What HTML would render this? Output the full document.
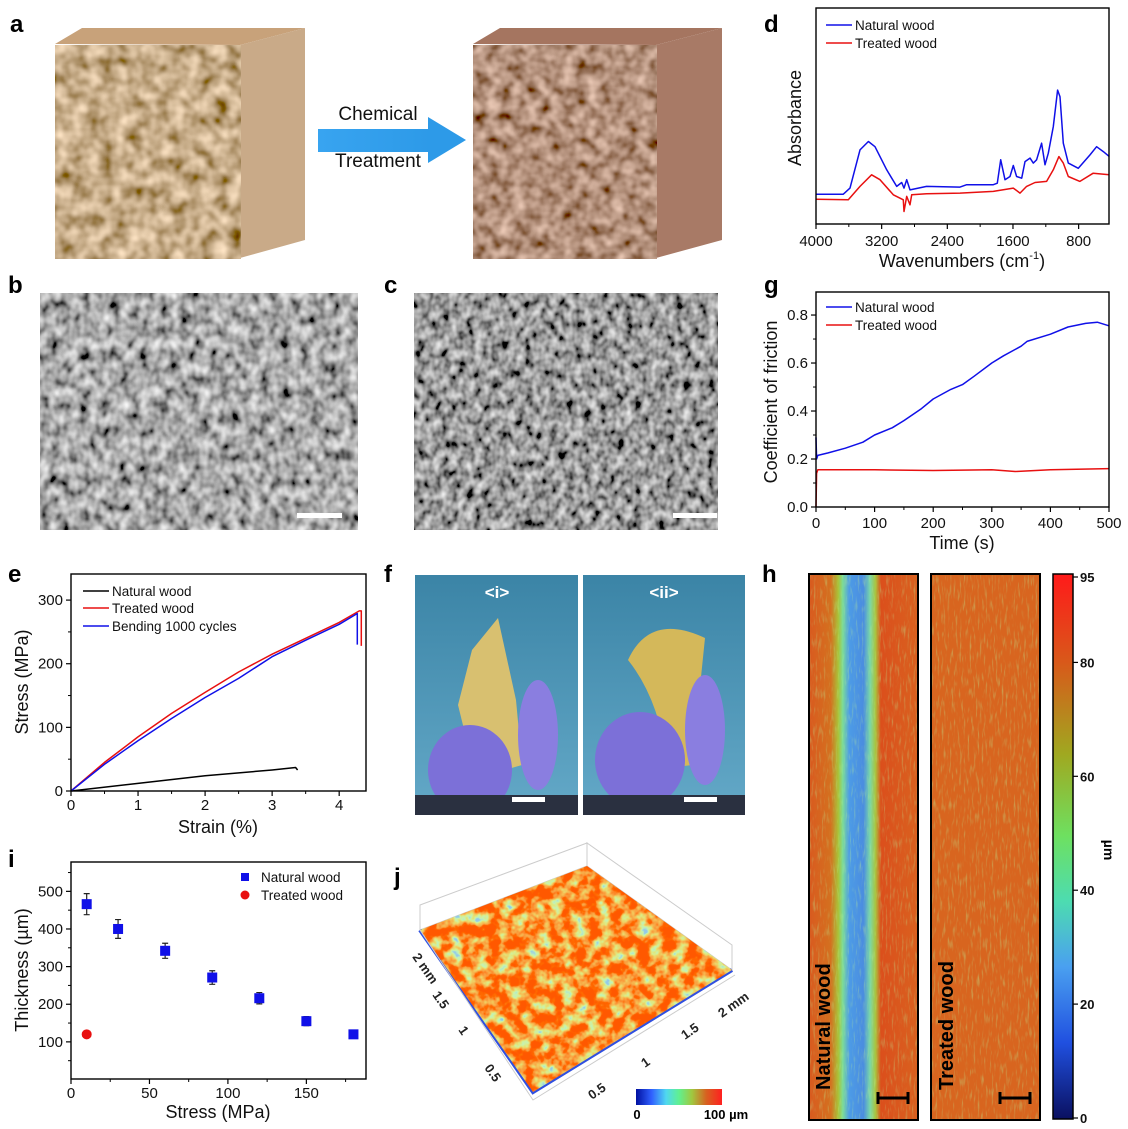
<!DOCTYPE html>
<html><head><meta charset="utf-8">
<style>
html,body{margin:0;padding:0;background:#fff;}
svg{display:block;font-family:"Liberation Sans",sans-serif;}
.pl{font-family:"Liberation Sans",sans-serif;font-weight:bold;font-size:24px;fill:#000;}
</style></head>
<body>
<svg id="fig" width="1128" height="1129" viewBox="0 0 1128 1129" xmlns="http://www.w3.org/2000/svg">
<defs>
<filter id="woodA" filterUnits="userSpaceOnUse" x="50" y="20" width="260" height="245">
 <feTurbulence type="fractalNoise" baseFrequency="0.07" numOctaves="2" seed="3"/>
 <feColorMatrix type="matrix" values="1.1 0 0 0 0.02  0.95 0 0 0 -0.06  0.8 0 0 0 -0.15  0 0 0 0 1"/>
 <feComposite in2="SourceGraphic" operator="in"/>
</filter>
<filter id="woodB" filterUnits="userSpaceOnUse" x="465" y="20" width="260" height="245">
 <feTurbulence type="fractalNoise" baseFrequency="0.08" numOctaves="2" seed="7"/>
 <feColorMatrix type="matrix" values="1.0 0 0 0 -0.05  0.8 0 0 0 -0.12  0.7 0 0 0 -0.15  0 0 0 0 1"/>
 <feComposite in2="SourceGraphic" operator="in"/>
</filter>
<filter id="semB" filterUnits="userSpaceOnUse" x="40" y="293" width="318" height="237">
 <feTurbulence type="fractalNoise" baseFrequency="0.1 0.08" numOctaves="2" seed="5"/>
 <feColorMatrix type="matrix" values="1.3 0 0 0 -0.25  1.3 0 0 0 -0.25  1.3 0 0 0 -0.25  0 0 0 0 1"/>
</filter>
<filter id="semC" filterUnits="userSpaceOnUse" x="414" y="293" width="304" height="237">
 <feTurbulence type="fractalNoise" baseFrequency="0.12 0.1" numOctaves="2" seed="9"/>
 <feColorMatrix type="matrix" values="1.3 0 0 0 -0.32  1.3 0 0 0 -0.32  1.3 0 0 0 -0.32  0 0 0 0 1"/>
</filter>
<filter id="surf" filterUnits="userSpaceOnUse" x="410" y="855" width="330" height="245">
 <feTurbulence type="fractalNoise" baseFrequency="0.08" numOctaves="3" seed="11"/>
 <feColorMatrix type="matrix" values="2.0 0 0 0 -0.3  2.0 0 0 0 -0.3  2.0 0 0 0 -0.3  0 0 0 0 1"/>
 <feComponentTransfer>
  <feFuncR type="table" tableValues="0.3 0.55 0.75 0.9 0.95 1 1"/>
  <feFuncG type="table" tableValues="0.6 0.9 0.8 0.55 0.35 0.15 0.1"/>
  <feFuncB type="table" tableValues="0.8 0.45 0.2 0.1 0.05 0 0"/>
 </feComponentTransfer>
</filter>
<filter id="speck" filterUnits="userSpaceOnUse" x="800" y="570" width="250" height="555">
 <feTurbulence type="fractalNoise" baseFrequency="0.5 0.08" numOctaves="2" seed="4"/>
 <feColorMatrix type="matrix" values="0 0 0 0 0.5  0 0 0 0 0.85  0 0 0 0 0.3  2.2 0 0 0 -1.15"/>
 <feComposite in2="SourceGraphic" operator="in"/>
</filter>
<clipPath id="surfClip"><polygon points="420,930 587,866 732,970 533,1092"/></clipPath>
<linearGradient id="hA" x1="0" x2="1" y1="0" y2="0">
 <stop offset="0" stop-color="#d95a1f"/><stop offset="0.2" stop-color="#d4701f"/>
 <stop offset="0.27" stop-color="#a8c43a"/><stop offset="0.31" stop-color="#7cdc98"/>
 <stop offset="0.37" stop-color="#4d9be6"/><stop offset="0.5" stop-color="#4a8de0"/>
 <stop offset="0.56" stop-color="#7ad8a8"/><stop offset="0.61" stop-color="#a9c43e"/>
 <stop offset="0.66" stop-color="#db4f1c"/><stop offset="1" stop-color="#d9611f"/>
</linearGradient>
<linearGradient id="cbar" x1="0" x2="0" y1="0" y2="1">
 <stop offset="0" stop-color="#ff1a1a"/><stop offset="0.16" stop-color="#d9581a"/>
 <stop offset="0.33" stop-color="#a0a820"/><stop offset="0.48" stop-color="#6ee060"/>
 <stop offset="0.6" stop-color="#4ddcb0"/><stop offset="0.72" stop-color="#4aa0f0"/>
 <stop offset="0.86" stop-color="#2050e0"/><stop offset="1" stop-color="#0a1060"/>
</linearGradient>
<linearGradient id="jbar" x1="0" x2="1" y1="0" y2="0">
 <stop offset="0" stop-color="#0010a0"/><stop offset="0.18" stop-color="#3060ff"/>
 <stop offset="0.35" stop-color="#50d8f0"/><stop offset="0.5" stop-color="#60f090"/>
 <stop offset="0.65" stop-color="#a0c840"/><stop offset="0.82" stop-color="#d86020"/>
 <stop offset="1" stop-color="#ff2020"/>
</linearGradient>
<linearGradient id="photo" x1="0" x2="0" y1="0" y2="1">
 <stop offset="0" stop-color="#3b84a6"/><stop offset="1" stop-color="#64a9c8"/>
</linearGradient>
<linearGradient id="arrowG" x1="0" x2="1" y1="0" y2="0">
 <stop offset="0" stop-color="#38a4f0"/><stop offset="1" stop-color="#2d9ae8"/>
</linearGradient>
</defs>

<!-- panel a -->
<g>
 <text class="pl" x="10" y="32">a</text>
 <g>
  <polygon points="55,44 82,28 305,28 240,45" fill="#c8a27a"/>
  <polygon points="240,45 305,28 305,240 240,258" fill="#c9aa88"/>
  <rect x="55" y="45" width="186" height="214" fill="#b08860" filter="url(#woodA)"/>
 </g>
 <g>
  <polygon points="473,44 500,28 722,28 656,45" fill="#a57560"/>
  <polygon points="656,45 722,28 722,240 656,258" fill="#a87a66"/>
  <rect x="473" y="45" width="184" height="214" fill="#8a5a45" filter="url(#woodB)"/>
 </g>
 <g>
  <rect x="318" y="129" width="112" height="23" fill="url(#arrowG)"/>
  <polygon points="428,117 466,140 428,163" fill="#2d9ae8"/>
 </g>
 <text x="378" y="120" font-size="19" text-anchor="middle" fill="#111">Chemical</text>
 <text x="378" y="167" font-size="19" text-anchor="middle" fill="#111">Treatment</text>
</g>

<!-- panels b, c -->
<g>
 <text class="pl" x="8" y="293">b</text>
 <rect x="40" y="293" width="318" height="237" fill="#707070" filter="url(#semB)"/>
 <rect x="297" y="513" width="45" height="5" fill="#fff"/>
</g>
<g>
 <text class="pl" x="384" y="293">c</text>
 <rect x="414" y="293" width="304" height="237" fill="#555" filter="url(#semC)"/>
 <rect x="673" y="513" width="44" height="5" fill="#fff"/>
</g>

<!-- panel f -->
<g>
 <text class="pl" x="384" y="582">f</text>
 <g>
  <rect x="415" y="575" width="163" height="240" fill="url(#photo)"/>
  <polygon points="472,650 498,618 516,700 522,765 476,778 458,705" fill="#d8c070"/>
  <ellipse cx="470" cy="770" rx="42" ry="45" fill="#7c70d8"/>
  <ellipse cx="538" cy="735" rx="20" ry="55" fill="#8a7ee0"/>
  <rect x="415" y="795" width="163" height="20" fill="#2a3040"/>
  <text x="497" y="598" font-size="17" font-weight="bold" fill="#fff" text-anchor="middle">&lt;i&gt;</text>
  <rect x="512" y="797" width="33" height="5" fill="#fff"/>
 </g>
 <g>
  <rect x="583" y="575" width="162" height="240" fill="url(#photo)"/>
  <path d="M628,660 Q650,612 705,638 L692,765 L668,768 Q660,700 628,660 Z" fill="#d4b85a"/>
  <ellipse cx="640" cy="760" rx="45" ry="48" fill="#7c70d8"/>
  <ellipse cx="705" cy="730" rx="20" ry="55" fill="#8a7ee0"/>
  <rect x="583" y="795" width="162" height="20" fill="#2a3040"/>
  <text x="664" y="598" font-size="17" font-weight="bold" fill="#fff" text-anchor="middle">&lt;ii&gt;</text>
  <rect x="684" y="797" width="33" height="5" fill="#fff"/>
 </g>
</g>

<!-- panel h -->
<g>
 <text class="pl" x="762" y="582">h</text>
 <g>
  <rect x="809" y="574" width="109" height="546" fill="url(#hA)"/>
  <rect x="809" y="574" width="109" height="546" fill="#000" filter="url(#speck)" opacity="0.5"/>
  <rect x="809" y="574" width="109" height="546" fill="none" stroke="#000" stroke-width="2"/>
  <text transform="translate(830,1090) rotate(-90)" font-size="20" font-weight="bold" fill="#000">Natural wood</text>
  <path d="M878,1092v12M878,1098h30M908,1092v12" stroke="#000" stroke-width="3" fill="none"/>
 </g>
 <g>
  <rect x="931" y="574" width="109" height="546" fill="#d8651f"/>
  <rect x="931" y="574" width="109" height="546" fill="#000" filter="url(#speck)" opacity="0.55"/>
  <rect x="931" y="574" width="109" height="546" fill="none" stroke="#000" stroke-width="2"/>
  <text transform="translate(953,1090) rotate(-90)" font-size="20" font-weight="bold" fill="#000">Treated wood</text>
  <path d="M1000,1092v12M1000,1098h30M1030,1092v12" stroke="#000" stroke-width="3" fill="none"/>
 </g>
 <g>
  <rect x="1053" y="574" width="20" height="545" fill="url(#cbar)" stroke="#000" stroke-width="1.5"/>
 </g>
 <text transform="translate(1104,850) rotate(90)" font-size="14" font-weight="bold" text-anchor="middle">µm</text>
</g>

<!-- panel j -->
<g>
 <text class="pl" x="394" y="885">j</text>
 <g stroke="#ccc" stroke-width="1" fill="none">
  <polygon points="420,930 420,905 587,843 587,866"/>
  <polygon points="587,866 587,843 732,945 732,970"/>
 </g>
 <path d="M420,930 L533,1092 L732,970" stroke="#3050e0" stroke-width="4" fill="none"/>
 <rect x="410" y="855" width="330" height="245" fill="#d86020" filter="url(#surf)" clip-path="url(#surfClip)"/>
 <path d="M420,930 L533,1100 L735,975" stroke="#ccc" stroke-width="1" fill="none"/>
 <g font-size="13" font-weight="bold" fill="#222">
  <text transform="translate(412,957) rotate(55)">2 mm</text>
  <text transform="translate(432,995) rotate(55)">1.5</text>
  <text transform="translate(458,1030) rotate(55)">1</text>
  <text transform="translate(484,1068) rotate(55)">0.5</text>
  <text transform="translate(592,1100) rotate(-35)">0.5</text>
  <text transform="translate(645,1068) rotate(-35)">1</text>
  <text transform="translate(685,1040) rotate(-35)">1.5</text>
  <text transform="translate(722,1018) rotate(-35)">2 mm</text>
 </g>
 <rect x="636" y="1089" width="86" height="16" fill="url(#jbar)"/>
 <text x="637" y="1119" font-size="13" font-weight="bold" text-anchor="middle">0</text>
 <text x="726" y="1119" font-size="13" font-weight="bold" text-anchor="middle">100 µm</text>
</g>

<g id="charts"></g>
</svg>

<script>
// ---- panel d data (FTIR) ----
const dWnBlue=[4000,3667,3586,3464,3362,3281,3139,3017,2956,2928,2895,2855,2652,2246,2164,1840,1791,1750,1697,1636,1596,1556,1494,1454,1393,1352,1312,1251,1210,1170,1109,1056,1027,987,926,804,662,581,499,426];
const dAbsBlue=[0.138,0.138,0.166,0.343,0.382,0.358,0.251,0.174,0.192,0.166,0.205,0.158,0.174,0.171,0.182,0.182,0.189,0.297,0.205,0.220,0.271,0.220,0.212,0.289,0.305,0.282,0.297,0.374,0.274,0.328,0.451,0.620,0.589,0.374,0.282,0.258,0.320,0.358,0.335,0.312];
const dWnRed=[4000,3606,3464,3322,3220,3058,2936,2928,2895,2855,2834,2652,2246,1840,1596,1515,1434,1332,1190,1109,1040,987,926,784,622,426];
const dAbsRed=[0.115,0.112,0.174,0.228,0.205,0.135,0.112,0.058,0.128,0.089,0.135,0.140,0.143,0.151,0.166,0.143,0.174,0.192,0.197,0.251,0.312,0.282,0.220,0.197,0.235,0.228];
const dTicks=[4000,3200,2400,1600,800];
const dTickLabels=['4000','3200','2400','1600','800'];
const dMinor=[3600,2800,2000,1200];
// ---- panel g data (friction) ----
const gTimeBlue=[0,1,3,20,50,80,100,130,150,180,200,230,250,270,300,320,350,360,400,430,460,480,500];
const gCofBlue=[0.29,0.20,0.215,0.225,0.245,0.27,0.30,0.33,0.36,0.41,0.45,0.49,0.51,0.545,0.60,0.63,0.67,0.69,0.72,0.75,0.765,0.77,0.755];
const gTimeRed=[0,1,3,100,200,300,340,400,500];
const gCofRed=[0,0.14,0.155,0.155,0.152,0.155,0.148,0.155,0.16];
const gXTicks=[0,100,200,300,400,500];
const gXLabels=['0','100','200','300','400','500'];
const gYTicks=[0,0.2,0.4,0.6,0.8];
const gYLabels=['0.0','0.2','0.4','0.6','0.8'];
// ---- panel e data (tensile) ----
const eStrainRed=[0,0.5,1,1.5,2,2.5,3,3.5,4,4.3,4.33,4.33];
const eStressRed=[0,45,85,122,155,187,215,240,265,283,283,228];
const eStrainBlue=[0,0.5,1,1.5,2,2.5,3,3.5,4,4.27,4.27];
const eStressBlue=[0,42,79,114,147,177,211,237,262,279,230];
const eStrainBlack=[0,1,2,3,3.35,3.38];
const eStressBlack=[0,12,24,33,37,33];
const eXTicks=[0,1,2,3,4];
const eXLabels=['0','1','2','3','4'];
const eYTicks=[0,100,200,300];
const eYLabels=['0','100','200','300'];
// ---- panel i data (thickness) ----
const iStressNat=[10,30,60,90,120,150,180];
const iThickNat=[466,400,342,271,216,155,120];
const iErrNat=[28,25,20,18,15,12,8];
const iStressTr=[10];
const iThickTr=[120];
const iErrTr=[8];
const iXTicks=[0,50,100,150];
const iXLabels=['0','50','100','150'];
const iYTicks=[100,200,300,400,500];
const iYLabels=['100','200','300','400','500'];
// ---- colorbar h ----
const hTicks=[0,20,40,60,80,95];

const NS='http://www.w3.org/2000/svg';
const root=document.getElementById('charts');
function mk(tag,attrs,parent){const e=document.createElementNS(NS,tag);for(const k in attrs)e.setAttribute(k,attrs[k]);parent.appendChild(e);return e;}
function tx(parent,x,y,s,size,anchor){const e=mk('text',{x:x,y:y,'font-size':size,'text-anchor':anchor||'middle',fill:'#111'},parent);e.textContent=s;return e;}
function sc(d0,d1,r0,r1){return v=>r0+(v-d0)/(d1-d0)*(r1-r0);}
function group(name){const g=mk('g',{},root);


return g;}
function frame(g,x0,y0,x1,y1){const r=mk('rect',{x:x0,y:y0,width:x1-x0,height:y1-y0,fill:'none',stroke:'#000','stroke-width':1.4},g);

}
function xTicks(g,sx,yb,major,labels,minor,ly){
 major.forEach((v,i)=>{const t=mk('line',{x1:sx(v),x2:sx(v),y1:yb,y2:yb+5,stroke:'#000','stroke-width':1.2},g);
 
 
 const l=tx(g,sx(v),ly,labels[i],15);
 
 });
 minor.forEach(v=>{const t=mk('line',{x1:sx(v),x2:sx(v),y1:yb,y2:yb+3,stroke:'#000'},g);
 
 });
}
function yTicks(g,sy,xl,major,labels,minor){
 major.forEach((v,i)=>{const t=mk('line',{x1:xl-5,x2:xl,y1:sy(v),y2:sy(v),stroke:'#000','stroke-width':1.2},g);
 
 
 const l=tx(g,xl-8,sy(v)+5,labels[i],15,'end');
 
 });
 minor.forEach(v=>{const t=mk('line',{x1:xl-3,x2:xl,y1:sy(v),y2:sy(v),stroke:'#000'},g);
 
 });
}
function series(g,xs,ys,sx,sy,color,name){
 const d=xs.map((v,i)=>(i?'L':'M')+sx(v).toFixed(1)+','+sy(ys[i]).toFixed(1)).join('');
 const p=mk('path',{d:d,fill:'none',stroke:color,'stroke-width':1.5,'stroke-linejoin':'round'},g);
 
 
}
function legendLine(g,x,y,color,label,name){
 const l=mk('line',{x1:x,x2:x+26,y1:y,y2:y,stroke:color,'stroke-width':1.6},g);
 
 
 const t=tx(g,x+29,y+5,label,13.5,'start');
 
 
}
function rotTitle(g,x,y,s,size,name){const t=mk('text',{transform:'translate('+x+','+y+') rotate(-90)','font-size':size,'text-anchor':'middle',fill:'#111'},g);t.textContent=s;
 
 }
function letter(g,x,y,s){const t=mk('text',{x:x,y:y,'class':'pl'},g);t.textContent=s;
 
 }

// ---------- panel d ----------
(function(){
 const g=group('panel-d');
 letter(g,764,32,'d');
 const sx=sc(4000,430,816,1109), sy=sc(0,1,224,8);
 series(g,dWnBlue,dAbsBlue,sx,sy,'#1010e8','natural-wood-spectrum');
 series(g,dWnRed,dAbsRed,sx,sy,'#e81010','treated-wood-spectrum');
 frame(g,816,8,1109,224);
 xTicks(g,sx,224,dTicks,dTickLabels,dMinor,246);
 rotTitle(g,801,118,'Absorbance',18,'y-axis-title');
 const t=tx(g,962,267,'Wavenumbers (cm',18);
 
 
 const sup=mk('tspan',{'font-size':11,dy:-8},t);sup.textContent='-1';
 const cl=mk('tspan',{dy:8},t);cl.textContent=')';
 legendLine(g,826,25,'#1010e8','Natural wood','legend-natural-wood');
 legendLine(g,826,43,'#e81010','Treated wood','legend-treated-wood');
})();

// ---------- panel g ----------
(function(){
 const g=group('panel-g');
 letter(g,764,293,'g');
 const sx=sc(0,500,816,1109), sy=sc(0,0.896,507,292);
 series(g,gTimeBlue,gCofBlue,sx,sy,'#1010e8','natural-wood-friction');
 series(g,gTimeRed,gCofRed,sx,sy,'#e81010','treated-wood-friction');
 frame(g,816,292,1109,507);
 xTicks(g,sx,507,gXTicks,gXLabels,[50,150,250,350,450],528);
 yTicks(g,sy,816,gYTicks,gYLabels,[0.1,0.3,0.5,0.7]);
 rotTitle(g,777,402,'Coefficient of friction',18,'y-axis-title');
 const t=tx(g,962,549,'Time (s)',18);
 
 
 legendLine(g,826,307,'#1010e8','Natural wood','legend-natural-wood');
 legendLine(g,826,325,'#e81010','Treated wood','legend-treated-wood');
})();

// ---------- panel e ----------
(function(){
 const g=group('panel-e');
 letter(g,8,582,'e');
 const sx=sc(0,4.4,71,366), sy=sc(0,341,791,574);
 series(g,eStrainBlack,eStressBlack,sx,sy,'#000','natural-wood-curve');
 series(g,eStrainRed,eStressRed,sx,sy,'#e81010','treated-wood-curve');
 series(g,eStrainBlue,eStressBlue,sx,sy,'#1010e8','bending-curve');
 frame(g,71,574,366,791);
 xTicks(g,sx,791,eXTicks,eXLabels,[0.5,1.5,2.5,3.5],810);
 yTicks(g,sy,71,eYTicks,eYLabels,[50,150,250]);
 rotTitle(g,28,682,'Stress (MPa)',18,'y-axis-title');
 const t=tx(g,218,833,'Strain (%)',18);
 
 
 legendLine(g,83,591,'#000','Natural wood','legend-natural-wood');
 legendLine(g,83,608,'#e81010','Treated wood','legend-treated-wood');
 legendLine(g,83,626,'#1010e8','Bending 1000 cycles','legend-bending');
})();

// ---------- panel i ----------
(function(){
 const g=group('panel-i');
 letter(g,8,867,'i');
 const sx=sc(0,188,71,366), sy=sc(0,578,1079.5,862);
 frame(g,71,862,366,1079);
 xTicks(g,sx,1079,iXTicks,iXLabels,[25,75,125,175],1098);
 yTicks(g,sy,71,iYTicks,iYLabels,[50,150,250,350,450,550]);
 function err(x,v,e,name){
  const p=mk('path',{d:'M'+(sx(x)-3)+','+sy(v+e)+'h6M'+sx(x)+','+sy(v+e)+'V'+sy(v-e)+'M'+(sx(x)-3)+','+sy(v-e)+'h6',stroke:'#222','stroke-width':1.2,fill:'none'},g);
  
  
 }
 iStressNat.forEach((x,i)=>{
  err(x,iThickNat[i],iErrNat[i],'error-bar-natural');
  const r=mk('rect',{x:sx(x)-5,y:sy(iThickNat[i])-5,width:10,height:10,fill:'#1010e8'},g);
  
  
 });
 iStressTr.forEach((x,i)=>{
  err(x,iThickTr[i],iErrTr[i],'error-bar-treated');
  const c=mk('circle',{cx:sx(x),cy:sy(iThickTr[i]),r:5,fill:'#e81010'},g);
  
  
 });
 rotTitle(g,28,970,'Thickness (µm)',18,'y-axis-title');
 const t=tx(g,218,1118,'Stress (MPa)',18);
 
 
 const s1=mk('rect',{x:241,y:873,width:8,height:8,fill:'#1010e8'},g);
 
 
 const l1=tx(g,261,882,'Natural wood',13.5,'start');
 
 
 const s2=mk('circle',{cx:245,cy:895,r:4.5,fill:'#e81010'},g);
 
 
 const l2=tx(g,261,900,'Treated wood',13.5,'start');
 
 
})();

// ---------- colorbar ticks h ----------
(function(){
 const g=group('colorbar-ticks');
 const sy=sc(0,95,1118,577);
 hTicks.forEach(v=>{
  const t=mk('line',{x1:1073,x2:1078,y1:sy(v),y2:sy(v),stroke:'#000','stroke-width':1.2},g);
  
  
  const l=mk('text',{x:1080,y:sy(v)+5,'font-size':13,'font-weight':'bold',fill:'#111'},g);
  l.textContent=String(v);
  
  
 });
})();
</script>
</body></html>
